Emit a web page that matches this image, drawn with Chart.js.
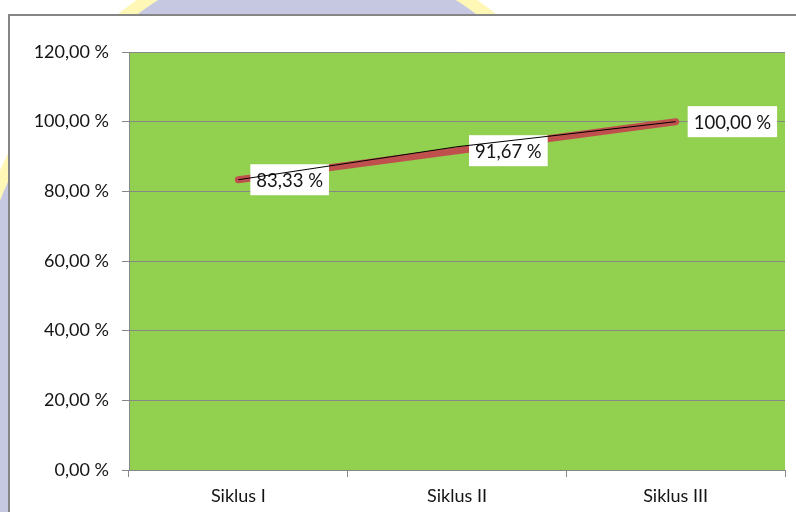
<!DOCTYPE html>
<html>
<head>
<meta charset="utf-8">
<script src="https://cdn.jsdelivr.net/npm/chart.js@4/dist/chart.umd.min.js"></script>
<style>
  html, body { margin: 0; padding: 0; background: #ffffff; width: 796px; height: 512px; overflow: hidden; position: relative; }
  #wm { position: absolute; left: -50px; top: -56px; width: 690px; height: 900px; border-radius: 50%;
        background: #C6C8E2; border: 12px solid #FFF7B5; }
  #frame { position: absolute; left: 8px; top: 14px; width: 800px; height: 510px;
           border-left: 2px solid #858585; border-top: 2px solid #858585; background: #ffffff; }
  #wrap { position: absolute; left: 0; top: 0; width: 786px; height: 496px; }
</style>
</head>
<body>
<div id="wm"></div>
<div id="frame"><div id="wrap"><canvas id="c" width="786" height="496"></canvas></div></div>
<script>
const categories = ['Siklus I', 'Siklus II', 'Siklus III'];
const percentValues = [83.33, 91.67, 100.00];
const blackLineValues = [83.33, 92.8, 100.00];
const yTicks = [0, 20, 40, 60, 80, 100, 120];

const FONT = 'Lato, "Open Sans", sans-serif';
const fmt = v => v.toFixed(2).replace('.', ',') + ' %';

const labelPlugin = {
  id: 'boxLabels',
  afterDatasetDraw(chart, args) {
    if (args.index !== 1) return;
    const ctx = chart.ctx;
    const meta = chart.getDatasetMeta(1);
    ctx.save();
    ctx.font = '18.5px ' + FONT;
    ctx.textBaseline = 'middle';
    ctx.textAlign = 'left';
    meta.data.forEach((pt, i) => {
      const txt = fmt(percentValues[i]);
      const w = ctx.measureText(txt).width + 12;
      const h = 31;
      const x = pt.x + 12;
      const y = pt.y - h / 2;
      ctx.fillStyle = '#ffffff';
      ctx.fillRect(x, y, w, h);
      ctx.fillStyle = '#141414';
      ctx.fillText(txt, x + 6, pt.y + 1);
    });
    ctx.restore();
  }
};

const plotBg = {
  id: 'plotBg',
  beforeDraw(chart) {
    const {ctx, chartArea: a} = chart;
    ctx.save();
    ctx.fillStyle = '#92D050';
    ctx.fillRect(a.left, a.top, a.right - a.left, a.bottom - a.top);
    ctx.restore();
  }
};

new Chart(document.getElementById('c'), {
  type: 'line',
  data: {
    labels: categories,
    datasets: [
      {
        label: 'trend',
        data: blackLineValues,
        borderColor: '#000000',
        borderWidth: 1,
        pointRadius: 0,
        tension: 0,
        fill: false
      },
      {
        label: 'Persentase',
        data: percentValues,
        borderColor: '#C0504D',
        borderWidth: 7,
        borderCapStyle: 'round',
        borderJoinStyle: 'round',
        pointRadius: 0,
        tension: 0,
        fill: false
      }
    ]
  },
  options: {
    responsive: false,
    animation: false,
    devicePixelRatio: 1,
    layout: { padding: { top: 36, right: 11, left: 0, bottom: 0 } },
    plugins: { legend: { display: false }, tooltip: { enabled: false } },
    scales: {
      x: {
        offset: true,
        grid: { display: true, offset: true, drawOnChartArea: false, drawTicks: true, tickLength: 7, color: '#878787', lineWidth: 1 },
        border: { display: true, color: '#878787', width: 1 },
        ticks: { color: '#141414', font: { family: FONT, size: 18 }, padding: 8, maxRotation: 0 },
        afterFit(s) { s.height = 42; }
      },
      y: {
        min: 0, max: 120,
        afterBuildTicks(s) { s.ticks = yTicks.map(v => ({ value: v })); },
        grid: { color: '#878787', lineWidth: 1, tickLength: 7, drawTicks: true },
        border: { display: true, color: '#878787', width: 1 },
        ticks: { color: '#141414', font: { family: FONT, size: 18 }, padding: 13, callback: v => fmt(v) },
        afterFit(s) { s.width = 119; }
      }
    }
  },
  plugins: [plotBg, labelPlugin]
});
</script>
</body>
</html>
